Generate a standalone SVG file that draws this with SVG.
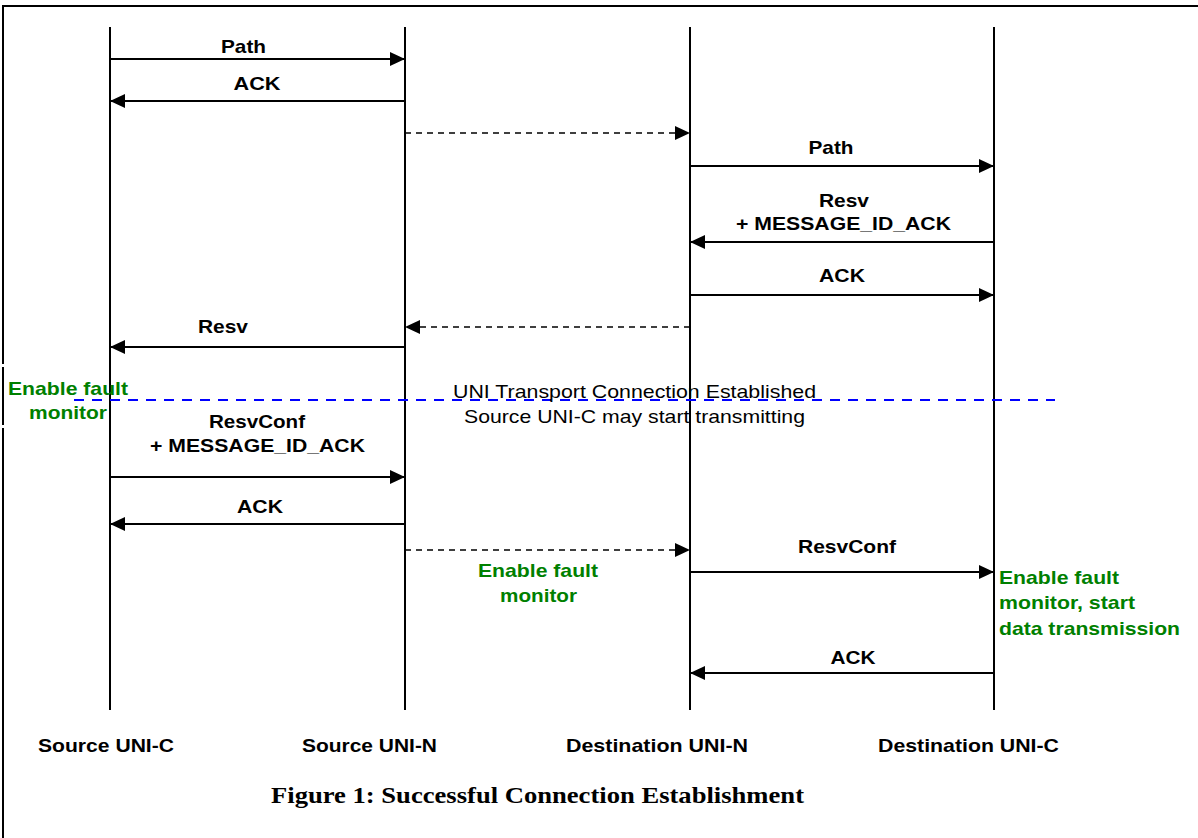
<svg xmlns="http://www.w3.org/2000/svg" width="1198" height="838" viewBox="0 0 1198 838">
<defs>
<marker id="ah" viewBox="0 0 15 14" refX="15" refY="7" markerWidth="15" markerHeight="14" markerUnits="userSpaceOnUse" orient="auto">
<path d="M0,0 L15,7 L0,14 Z" fill="#000"/>
</marker>
<style>
.life{stroke:#000;stroke-width:2;fill:none}
.msg{stroke:#000;stroke-width:2;fill:none;marker-end:url(#ah)}
.dash{stroke:#000;stroke-width:1.5;fill:none;stroke-dasharray:6 5;marker-end:url(#ah)}
.lbl{font-family:"Liberation Sans",Arial,sans-serif;font-weight:bold;font-size:19px;fill:#000;text-anchor:middle}
.grn{font-family:"Liberation Sans",Arial,sans-serif;font-weight:bold;font-size:19px;fill:#008000}
.note{font-family:"Liberation Sans",Arial,sans-serif;font-size:19px;fill:#000;text-anchor:middle}
.cap{font-family:"Liberation Serif","Times New Roman",serif;font-weight:bold;font-size:23px;fill:#000;text-anchor:middle}
</style>
</defs>
<rect width="1198" height="838" fill="#fff"/>
<g id="frame" stroke="#000" stroke-width="2" fill="none">
<line x1="2" y1="6" x2="1198" y2="6"/>
<line x1="3" y1="6" x2="3" y2="364"/>
<line x1="3" y1="367" x2="3" y2="425"/>
<line x1="3" y1="428" x2="3" y2="838"/>
</g>
<g id="source-uni-c">
<line class="life" x1="110" y1="27" x2="110" y2="710"/>
<text class="lbl" x="106" y="752" textLength="136" lengthAdjust="spacingAndGlyphs">Source UNI-C</text>
</g>
<g id="source-uni-n">
<line class="life" x1="405" y1="27" x2="405" y2="710"/>
<text class="lbl" x="369.5" y="752" textLength="135" lengthAdjust="spacingAndGlyphs">Source UNI-N</text>
</g>
<g id="destination-uni-n">
<line class="life" x1="690" y1="27" x2="690" y2="710"/>
<text class="lbl" x="657" y="752" textLength="182" lengthAdjust="spacingAndGlyphs">Destination UNI-N</text>
</g>
<g id="destination-uni-c">
<line class="life" x1="994" y1="27" x2="994" y2="710"/>
<text class="lbl" x="968.5" y="752" textLength="181" lengthAdjust="spacingAndGlyphs">Destination UNI-C</text>
</g>
<g id="connectors">
<line class="msg" x1="110" y1="59" x2="405" y2="59"/>
<line class="msg" x1="405" y1="101" x2="110" y2="101"/>
<line class="dash" x1="405" y1="133" x2="690" y2="133"/>
<line class="msg" x1="690" y1="166" x2="994" y2="166"/>
<line class="msg" x1="994" y1="242" x2="690" y2="242"/>
<line class="msg" x1="690" y1="295" x2="994" y2="295"/>
<line class="dash" x1="690" y1="327" x2="405" y2="327"/>
<line class="msg" x1="405" y1="347" x2="110" y2="347"/>
<line x1="74" y1="400" x2="1055" y2="400" stroke="#0000ff" stroke-width="2" stroke-dasharray="10 8"/>
<line class="msg" x1="110" y1="477" x2="405" y2="477"/>
<line class="msg" x1="405" y1="524" x2="110" y2="524"/>
<line class="dash" x1="405" y1="550" x2="690" y2="550"/>
<line class="msg" x1="690" y1="572" x2="994" y2="572"/>
<line class="msg" x1="994" y1="673" x2="690" y2="673"/>
</g>
<g id="labels">
<text class="lbl" x="243.5" y="53" textLength="45" lengthAdjust="spacingAndGlyphs">Path</text>
<text class="lbl" x="257" y="90" textLength="47" lengthAdjust="spacingAndGlyphs">ACK</text>
<text class="lbl" x="831" y="154" textLength="45" lengthAdjust="spacingAndGlyphs">Path</text>
<text class="lbl" x="844" y="207" textLength="50" lengthAdjust="spacingAndGlyphs">Resv</text>
<text class="lbl" x="843.5" y="230" textLength="215" lengthAdjust="spacingAndGlyphs">+ MESSAGE_ID_ACK</text>
<text class="lbl" x="842" y="282" textLength="46" lengthAdjust="spacingAndGlyphs">ACK</text>
<text class="lbl" x="223" y="333" textLength="50" lengthAdjust="spacingAndGlyphs">Resv</text>
<text class="lbl" x="257" y="428" textLength="96" lengthAdjust="spacingAndGlyphs">ResvConf</text>
<text class="lbl" x="257.5" y="452" textLength="215" lengthAdjust="spacingAndGlyphs">+ MESSAGE_ID_ACK</text>
<text class="lbl" x="260" y="513" textLength="46" lengthAdjust="spacingAndGlyphs">ACK</text>
<text class="lbl" x="847" y="553" textLength="98" lengthAdjust="spacingAndGlyphs">ResvConf</text>
<text class="lbl" x="853" y="664" textLength="45" lengthAdjust="spacingAndGlyphs">ACK</text>
</g>
<g id="notes">
<text class="grn" x="8" y="395" textLength="120" lengthAdjust="spacingAndGlyphs">Enable fault</text>
<text class="grn" x="29" y="419" textLength="78" lengthAdjust="spacingAndGlyphs">monitor</text>
<text class="note" x="634.5" y="398" textLength="363" lengthAdjust="spacingAndGlyphs">UNI Transport Connection Established</text>
<text class="note" x="634.5" y="423" textLength="341" lengthAdjust="spacingAndGlyphs">Source UNI-C may start transmitting</text>
<text class="grn" x="478" y="577" textLength="120" lengthAdjust="spacingAndGlyphs">Enable fault</text>
<text class="grn" x="500" y="602" textLength="77" lengthAdjust="spacingAndGlyphs">monitor</text>
<text class="grn" x="999" y="584" textLength="120" lengthAdjust="spacingAndGlyphs">Enable fault</text>
<text class="grn" x="999" y="609" textLength="136" lengthAdjust="spacingAndGlyphs">monitor, start</text>
<text class="grn" x="999" y="635" textLength="181" lengthAdjust="spacingAndGlyphs">data transmission</text>
</g>
<text class="cap" x="537.5" y="803" textLength="533" lengthAdjust="spacingAndGlyphs">Figure 1: Successful Connection Establishment</text>
</svg>
